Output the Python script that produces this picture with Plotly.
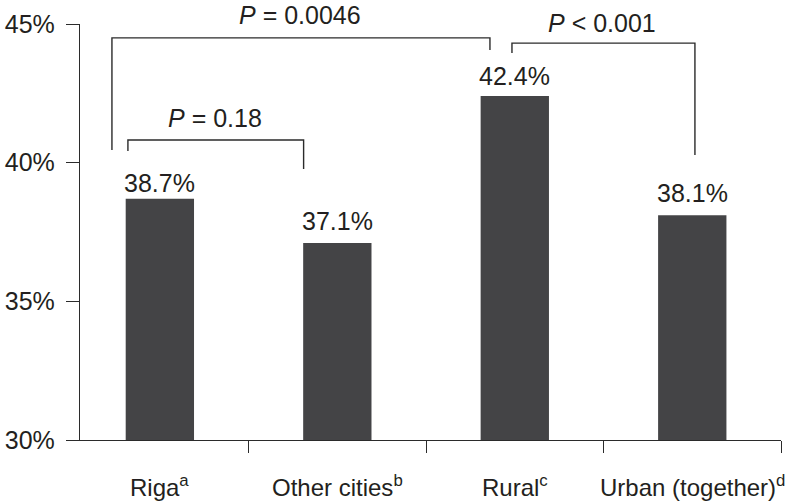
import plotly.graph_objects as go

categories = ["Riga<sup>a</sup>", "Other cities<sup>b</sup>", "Rural<sup>c</sup>", "Urban (together)<sup>d</sup>"]
values = [38.7, 37.1, 42.4, 38.1]
y_ticks = [30, 35, 40, 45]
y_tick_labels = ["30%", "35%", "40%", "45%"]
# comparisons: (left bar index, right bar index, label)
comparisons = [
    (0, 2, "<i>P</i> = 0.0046"),
    (0, 1, "<i>P</i> = 0.18"),
    (2, 3, "<i>P</i> < 0.001"),
]

FONT = "Liberation Sans, Arial, Helvetica, sans-serif"
TXT = "#231f20"
LINE = "#2b2b2b"
BAR = "#444446"
FS = 25

x = list(range(len(categories)))

fig = go.Figure()
fig.add_trace(go.Bar(x=x, y=values, width=0.385, marker=dict(color=BAR, line=dict(width=0)),
                     showlegend=False, hoverinfo="skip"))

# bracket geometry (style): offsets from bar centres and heights
bracket_geom = [
    dict(dl=-0.27, dr=-0.14, yh=44.50, ylb=40.46, yrb=44.06, tx=0.79, ty=45.0, ts=9),
    dict(dl=-0.18, dr=-0.19, yh=40.82, ylb=40.42, yrb=39.77, tx=0.31, ty=41.62, ts=0),
    dict(dl=-0.016, dr=0.015, yh=44.31, ylb=43.95, yrb=40.28, tx=2.49, ty=45.0, ts=1),
]
shapes = []
annotations = []
for (i, j, lab), g in zip(comparisons, bracket_geom):
    xl = x[i] + g["dl"]
    xr = x[j] + g["dr"]
    shapes.append(dict(type="path", xref="x", yref="y",
                       path=f"M {xl} {g['ylb']} L {xl} {g['yh']} L {xr} {g['yh']} L {xr} {g['yrb']}",
                       line=dict(color=LINE, width=1.4)))
    annotations.append(dict(x=g["tx"], y=g["ty"], xref="x", yref="y", text=lab, showarrow=False,
                            yshift=g["ts"], font=dict(family=FONT, size=FS, color=TXT),
                            yanchor="middle"))

label_shift = [16, 22, 20, 22]
for xi, v, s in zip(x, values, label_shift):
    annotations.append(dict(x=xi, y=v, xref="x", yref="y", text=f"{v}%", showarrow=False,
                            yshift=s, yanchor="middle",
                            font=dict(family=FONT, size=FS, color=TXT)))

for xi, c in zip(x, categories):
    annotations.append(dict(x=xi, y=0, xref="x", yref="paper", text=c, showarrow=False,
                            yshift=-46, yanchor="middle",
                            font=dict(family=FONT, size=FS - 1, color=TXT)))

fig.update_layout(
    width=800, height=501,
    margin=dict(l=80, r=19, t=24, b=61, pad=0),
    paper_bgcolor="white", plot_bgcolor="white",
    shapes=shapes, annotations=annotations,
    xaxis=dict(range=[-0.45, 3.5], showgrid=False, zeroline=False, showline=True,
               automargin=False,
               linecolor=LINE, linewidth=1.4, ticks="outside", ticklen=12, tickwidth=1.4,
               tickcolor=LINE, tickvals=[0.5, 1.5, 2.5, 3.5], ticktext=["", "", "", ""]),
    yaxis=dict(range=[30, 45], showgrid=False, zeroline=False, showline=True,
               automargin=False,
               linecolor=LINE, linewidth=1.4, ticks="outside", ticklen=13, tickwidth=1.4,
               tickcolor=LINE, tickvals=y_ticks, ticktext=y_tick_labels, ticklabelstandoff=6,
               tickfont=dict(family=FONT, size=FS, color=TXT)),
)

fig.write_html("out.html", config={"displayModeBar": False},
               post_script="document.body.style.margin='0';document.body.style.overflow='hidden';")
